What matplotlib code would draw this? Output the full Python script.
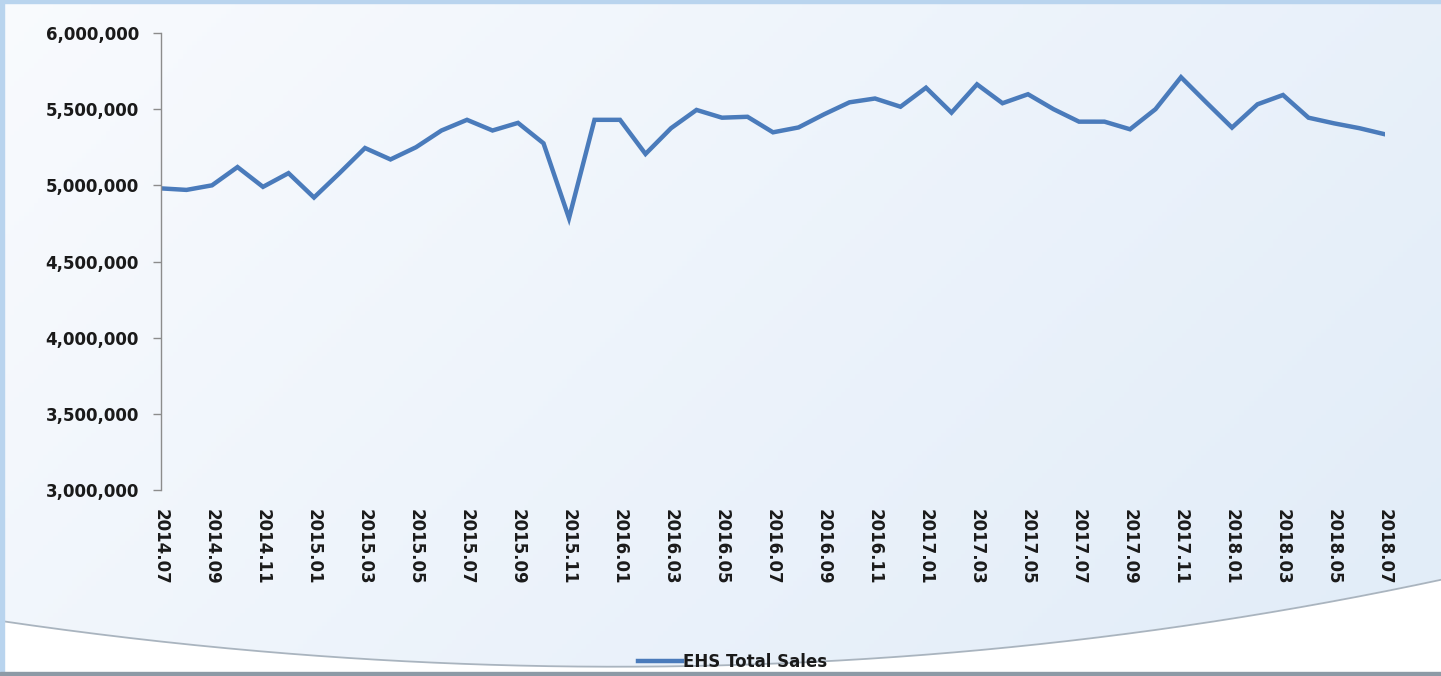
import numpy as np
import matplotlib
matplotlib.use("Agg")
import matplotlib.pyplot as plt
from matplotlib.patches import Rectangle
from matplotlib.ticker import FuncFormatter, MultipleLocator

# Monthly existing-home total sales, 2014.07 - 2018.07
months = [f"{y}.{m:02d}" for y in range(2014, 2019) for m in range(1, 13)]
months = months[months.index("2014.07"):months.index("2018.07") + 1]

sales = [
    4980000, 4970000, 5000000, 5120000, 4990000, 5080000,   # 2014.07 - 2014.12
    4920000, 5080000, 5245000, 5170000, 5250000, 5360000,   # 2015.01 - 2015.06
    5430000, 5360000, 5410000, 5276000, 4784000, 5430000,   # 2015.07 - 2015.12
    5430000, 5206000, 5375000, 5495000, 5444000, 5450000,   # 2016.01 - 2016.06
    5348000, 5380000, 5466000, 5545000, 5570000, 5516000,   # 2016.07 - 2016.12
    5641000, 5477000, 5663000, 5539000, 5598000, 5500000,   # 2017.01 - 2017.06
    5418000, 5418000, 5368000, 5500000, 5710000, 5543000,   # 2017.07 - 2017.12
    5379000, 5532000, 5593000, 5444000, 5407000, 5375000,   # 2018.01 - 2018.06
    5335000,                                                # 2018.07
]
series_name = "EHS Total Sales"

W, H = 1441, 676
fig = plt.figure(figsize=(W / 100, H / 100), dpi=100)

# ---- decorative backdrop -------------------------------------------------
bg = fig.add_axes([0, 0, 1, 1], zorder=0)
bg.set_xlim(0, W)
bg.set_ylim(H, 0)
bg.axis("off")

gx, gy = np.meshgrid(np.linspace(0, 1, 300), np.linspace(0, 1, 150))
t = np.clip(0.75 * gx + 0.35 * gy, 0, 1)
c0 = np.array([0.975, 0.983, 0.995])
c1 = np.array([0.890, 0.930, 0.975])
grad = c0[None, None, :] * (1 - t[..., None]) + c1[None, None, :] * t[..., None]
bg.imshow(grad, extent=[0, W, H, 0], aspect="auto", zorder=0)

# white sweep under a soft arc near the bottom
ax_pts = np.array([0, 300, 720, 1200, 1441])
ay_pts = np.array([621, 654, 666, 623, 580])
coef = np.polyfit(ax_pts, ay_pts, 3)
xs = np.linspace(0, W, 400)
ys = np.polyval(coef, xs)
bg.fill_between(xs, ys, H, color="white", zorder=1)
bg.plot(xs, ys, color="#a9b4bf", lw=1.3, zorder=2)

# frame
bg.add_patch(Rectangle((0, 0), 4, H, color="#b9d4ee", zorder=3))
bg.add_patch(Rectangle((0, 0), W, 3, color="#b9d4ee", zorder=3))
bg.add_patch(Rectangle((0, H - 4), W, 4, color="#8d9aa6", zorder=3))

# ---- chart ----------------------------------------------------------------
ax = fig.add_axes([161 / W, 1 - 490 / H, (1385 - 161) / W, (490 - 33) / H], zorder=2)
ax.patch.set_alpha(0)

x = np.arange(len(sales))
line, = ax.plot(x, sales, color="#4a7bbb", lw=3.2, solid_joinstyle="miter",
                label=series_name)

ax.set_xlim(0, len(sales) - 1)
ax.set_ylim(3000000, 6000000)
ax.yaxis.set_major_locator(MultipleLocator(500000))
ax.yaxis.set_major_formatter(FuncFormatter(lambda v, p: f"{int(v):,}"))

ax.set_xticks(x[::2])
ax.set_xticklabels(months[::2], rotation=-90, fontsize=12, fontweight="bold",
                   color="#1a1a1a")
ax.tick_params(axis="x", length=0, pad=14)
ax.tick_params(axis="y", length=6, width=1, color="#8c8c8c", pad=10,
               labelsize=12, labelcolor="#1a1a1a")
for lbl in ax.get_yticklabels():
    lbl.set_fontweight("bold")

for side in ("top", "right", "bottom"):
    ax.spines[side].set_visible(False)
ax.spines["left"].set_color("#8c8c8c")
ax.spines["left"].set_linewidth(1)

leg = fig.legend(handles=[line], loc="center", bbox_to_anchor=(733 / W, 1 - 662 / H),
                 frameon=False, handlelength=2.6, handletextpad=0.1,
                 prop={"weight": "bold", "size": 12})
for txt in leg.get_texts():
    txt.set_color("#1a1a1a")

fig.savefig("out.png", dpi=100)
